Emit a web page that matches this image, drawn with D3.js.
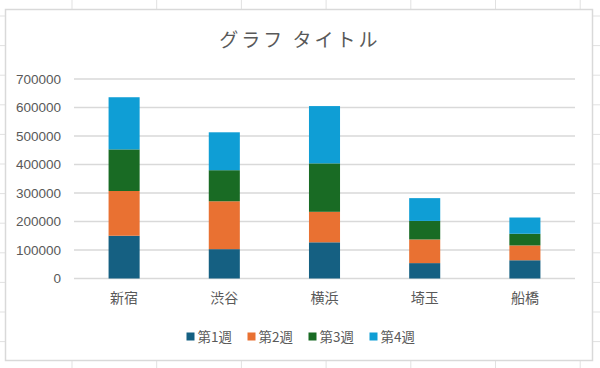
<!DOCTYPE html>
<html>
<head>
<meta charset="utf-8">
<script src="https://cdn.jsdelivr.net/npm/d3@7/dist/d3.min.js"></script>
<style>
  html, body { margin: 0; padding: 0; background: #ffffff; }
  svg { display: block; }
  text { fill: #595959; }
</style>
</head>
<body>
<svg id="chart" width="600" height="368"></svg>
<script>
const categories = ["新宿", "渋谷", "横浜", "埼玉", "船橋"];
const seriesNames = ["第1週", "第2週", "第3週", "第4週"];
const week1 = [150000, 103000, 127000, 54000, 64000];
const week2 = [157000, 168000, 107000, 83000, 52000];
const week3 = [146000, 109000, 170000, 65000, 41000];
const week4 = [183000, 133000, 201000, 80000, 57000];
const yTicks = [0, 100000, 200000, 300000, 400000, 500000, 600000, 700000];
const colors = ["#156082", "#E97132", "#196B24", "#0F9ED5"];
const titleText = "グラフ タイトル";

const W = 600, H = 368;
const svg = d3.select("#chart");

// spreadsheet cell grid behind the chart
const bg = svg.append("g");
d3.range(72, W, 84.7).forEach(x => {
  bg.append("line").attr("x1", x).attr("x2", x).attr("y1", 0).attr("y2", H)
    .attr("stroke", "#e1e1e1").attr("stroke-width", 1);
});
d3.range(16, H, 29.6).forEach(y => {
  bg.append("line").attr("x1", 0).attr("x2", W).attr("y1", y).attr("y2", y)
    .attr("stroke", "#e1e1e1").attr("stroke-width", 1);
});

// chart area
svg.append("rect")
  .attr("x", 5.5).attr("y", 9.5).attr("width", 587).attr("height", 351)
  .attr("fill", "#ffffff").attr("stroke", "#d9d9d9").attr("stroke-width", 1.5);

// title
svg.append("text")
  .attr("x", 300).attr("y", 47)
  .attr("text-anchor", "middle")
  .style("font-family", "'Noto Sans CJK JP', sans-serif")
  .style("font-size", "19px")
  .style("letter-spacing", "3px")
  .text(titleText);

const x = d3.scaleBand().domain(categories).range([74, 575])
  .paddingInner(0.69).paddingOuter(0.345);
const y = d3.scaleLinear().domain([0, 700000]).range([278.5, 79]);

// gridlines
svg.append("g").selectAll("line").data(yTicks).join("line")
  .attr("x1", 74).attr("x2", 575)
  .attr("y1", d => y(d)).attr("y2", d => y(d))
  .attr("stroke", "#d9d9d9").attr("stroke-width", 1.5);

// y axis labels
const yAxis = d3.axisLeft(y).tickValues(yTicks).tickSize(0).tickPadding(0)
  .tickFormat(d3.format("d"));
const ya = svg.append("g").attr("transform", "translate(61,0)").call(yAxis);
ya.select(".domain").remove();
ya.selectAll("text")
  .style("font-family", "'Liberation Sans', Arial, sans-serif")
  .style("font-size", "13.5px")
  .attr("fill", "#595959");

// stacked bars
const table = categories.map((c, i) => ({
  cat: c, "第1週": week1[i], "第2週": week2[i], "第3週": week3[i], "第4週": week4[i]
}));
const stack = d3.stack().keys(seriesNames)(table);
svg.append("g").selectAll("g").data(stack).join("g")
  .attr("fill", (d, i) => colors[i])
  .selectAll("rect").data(d => d).join("rect")
  .attr("x", d => x(d.data.cat))
  .attr("width", x.bandwidth())
  .attr("y", d => y(d[1]))
  .attr("height", d => y(d[0]) - y(d[1]));

// x axis labels
const xAxis = d3.axisBottom(x).tickSize(0).tickPadding(0);
const xa = svg.append("g").attr("transform", "translate(0,293)").call(xAxis);
xa.select(".domain").remove();
xa.selectAll("text")
  .style("font-family", "'Noto Sans CJK JP', sans-serif")
  .style("font-size", "14px")
  .attr("fill", "#595959");

// legend
const itemStep = 61;
const legendW = itemStep * (seriesNames.length - 1) + 48;
const lx0 = 302 - legendW / 2;
const leg = svg.append("g").selectAll("g").data(seriesNames).join("g")
  .attr("transform", (d, i) => `translate(${lx0 + i * itemStep},337)`);
leg.append("rect").attr("x", 0).attr("y", -4.5).attr("width", 8).attr("height", 8)
  .attr("fill", (d, i) => colors[i]);
leg.append("text").attr("x", 11).attr("y", 0).attr("dy", "0.36em")
  .style("font-family", "'Noto Sans CJK JP', sans-serif")
  .style("font-size", "13.5px")
  .text(d => d);
</script>
</body>
</html>
